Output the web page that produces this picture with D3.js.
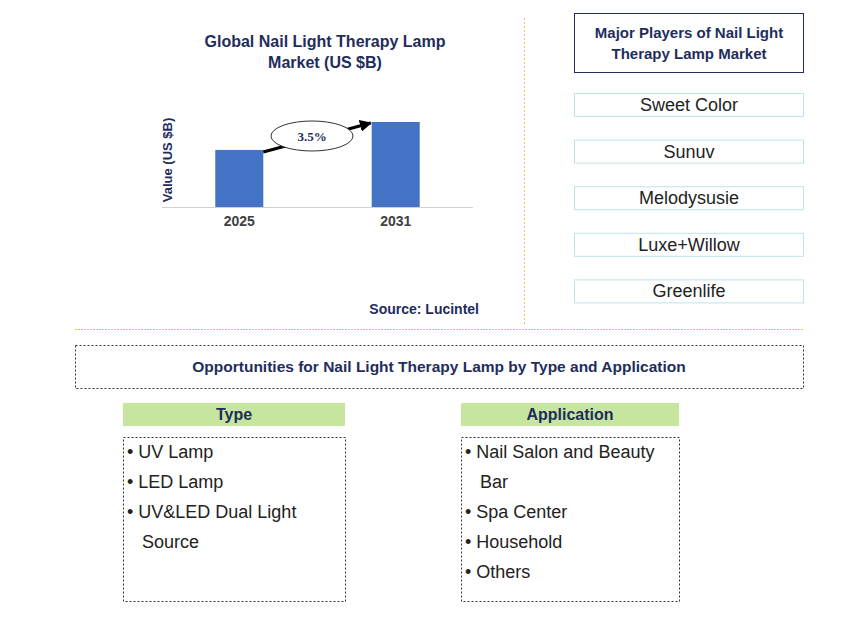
<!DOCTYPE html>
<html><head><meta charset="utf-8">
<script src="https://cdn.jsdelivr.net/npm/d3@7"></script>
<style>body{margin:0;background:#fff;font-family:Arial,"Liberation Sans",sans-serif}</style>
</head><body><svg id="c" width="868" height="642"></svg>
<script>
const years = ["2025","2031"];
const values = [1.0, 1.49];
const cagr = "3.5%";
const players = ["Sweet Color","Sunuv","Melodysusie","Luxe+Willow","Greenlife"];
const types = ["UV Lamp","LED Lamp","UV&LED Dual Light","Source"];
const typeBullets = [true,true,true,false];
const apps = ["Nail Salon and Beauty","Bar","Spa Center","Household","Others"];
const appBullets = [true,false,true,true,true];

const svg = d3.select("#c");
const navy = "#1f2d5c";
svg.append("text").attr("x",325).attr("y",47).attr("text-anchor","middle").attr("font-size",16).attr("font-weight","bold").attr("fill",navy).text("Global Nail Light Therapy Lamp");
svg.append("text").attr("x",325).attr("y",68).attr("text-anchor","middle").attr("font-size",16).attr("font-weight","bold").attr("fill",navy).text("Market (US $B)");
const x = d3.scaleBand().domain(years).range([161,474]).paddingInner(0.693).paddingOuter(0.347);
const y = d3.scaleLinear().domain([0,1.49]).range([207,122]);
svg.selectAll("rect.bar").data(values).join("rect").attr("class","bar")
 .attr("x",(d,i)=>x(years[i])).attr("width",x.bandwidth()).attr("y",d=>y(d)).attr("height",d=>207-y(d)).attr("fill","#4472c4");
svg.append("line").attr("x1",162).attr("x2",473).attr("y1",207.5).attr("y2",207.5).attr("stroke","#d0d0d0");
const xa = svg.append("g").attr("transform","translate(0,207)").call(d3.axisBottom(x).tickSize(0).tickPadding(9));
xa.select(".domain").remove();
xa.selectAll("text").attr("font-size",14).attr("font-weight","bold").attr("fill","#404040").attr("font-family","Arial,'Liberation Sans',sans-serif");
svg.append("text").attr("transform","translate(172,160) rotate(-90)").attr("text-anchor","middle").attr("font-size",13).attr("font-weight","bold").attr("fill",navy).text("Value (US $B)");
svg.append("defs").append("marker").attr("id","ah").attr("viewBox","0 0 10 10").attr("refX",9).attr("refY",5).attr("markerWidth",4).attr("markerHeight",4).attr("orient","auto").append("path").attr("d","M0,0L10,5L0,10z").attr("fill","#000");
const x1 = x(years[0])+x.bandwidth(), x2 = x(years[1]);
svg.append("line").attr("x1",x1).attr("y1",y(values[0])+2).attr("x2",x2-1).attr("y2",y(values[1])+1).attr("stroke","#000").attr("stroke-width",3).attr("marker-end","url(#ah)");
svg.append("ellipse").attr("cx",312).attr("cy",136).attr("rx",41).attr("ry",15).attr("fill","#fff").attr("stroke","#333");
svg.append("text").attr("x",312).attr("y",141).attr("text-anchor","middle").attr("font-size",13).attr("fill",navy).attr("font-family","'Liberation Serif',serif").attr("font-weight","bold").text(cagr);
svg.append("text").attr("x",479).attr("y",314).attr("text-anchor","end").attr("font-size",14).attr("font-weight","bold").attr("fill",navy).text("Source: Lucintel");
svg.append("line").attr("x1",524.5).attr("x2",524.5).attr("y1",18).attr("y2",326).attr("stroke","#f0c050").attr("stroke-dasharray","2,2");
svg.append("line").attr("x1",75).attr("x2",803).attr("y1",329.5).attr("y2",329.5).attr("stroke","#eebb44").attr("stroke-dasharray","2,1");
svg.append("rect").attr("x",574.5).attr("y",13.5).attr("width",229).attr("height",59).attr("fill","#fff").attr("stroke",navy);
svg.append("text").attr("x",689).attr("y",38).attr("text-anchor","middle").attr("font-size",15).attr("font-weight","bold").attr("fill",navy).text("Major Players of Nail Light");
svg.append("text").attr("x",689).attr("y",59).attr("text-anchor","middle").attr("font-size",15).attr("font-weight","bold").attr("fill",navy).text("Therapy Lamp Market");
players.forEach((p,i)=>{
 const yy = 93+i*46.6;
 svg.append("rect").attr("x",574.5).attr("y",yy+0.5).attr("width",229).attr("height",23).attr("fill","#fff").attr("stroke","#bfe3ea");
 svg.append("text").attr("x",689).attr("y",yy+18).attr("text-anchor","middle").attr("font-size",18).attr("fill","#222").text(p);
});
svg.append("rect").attr("x",75.5).attr("y",345.5).attr("width",728).attr("height",43).attr("fill","#fff").attr("stroke","#333").attr("stroke-dasharray","2,2");
svg.append("text").attr("x",439).attr("y",372).attr("text-anchor","middle").attr("font-size",15.5).attr("font-weight","bold").attr("fill",navy).text("Opportunities for Nail Light Therapy Lamp by Type and Application");
function panel(x0,w,title,items,bul){
 svg.append("rect").attr("x",x0).attr("y",403).attr("width",w).attr("height",23).attr("fill","#c6e6a0");
 svg.append("text").attr("x",x0+w/2).attr("y",420).attr("text-anchor","middle").attr("font-size",16).attr("font-weight","bold").attr("fill",navy).text(title);
 svg.append("rect").attr("x",x0+0.5).attr("y",437.5).attr("width",w).attr("height",164).attr("fill","#fff").attr("stroke","#333").attr("stroke-dasharray","2,2");
 items.forEach((t,i)=>{
  svg.append("text").attr("x",x0+4).attr("y",458+i*30).attr("font-size",18).attr("fill","#222").attr("xml:space","preserve").text((bul[i]?"• ":"   ")+t);
 });
}
panel(123,222,"Type",types,typeBullets);
panel(461,218,"Application",apps,appBullets);
</script></body></html>
